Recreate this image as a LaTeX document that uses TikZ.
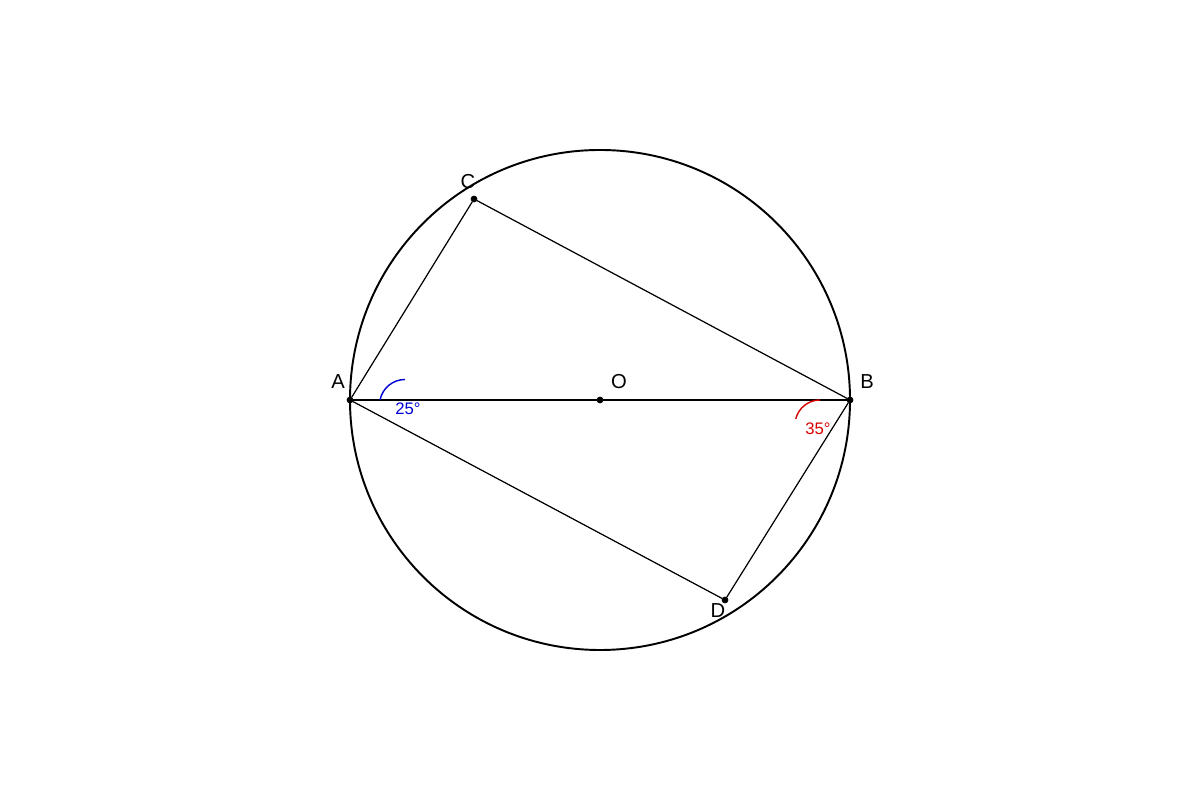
\documentclass[tikz,border=0pt]{standalone}
\usepackage{fontspec}
\setmainfont{Liberation Sans}
\usepackage{tikz}
\tikzstyle{dot}=[draw,shape=circle,fill,inner sep=1.2pt]
\tikzstyle{lbl}=[inner sep=0pt,font=\fontsize{11.5}{13}\selectfont]
\tikzstyle{ang}=[inner sep=0pt,font=\fontsize{9.5}{11}\selectfont]
\definecolor{angblue}{RGB}{0,0,210}
\definecolor{angred}{RGB}{215,0,0}

\begin{document}
\begin{tikzpicture}
\useasboundingbox (0,0) rectangle (24,16);

\draw[line width=1.1pt] (12,8) circle (5);

\node[dot](A) at (7,8){};
\node[dot](B) at (17,8){};
\node[dot](O) at (12,8){};
\node[dot](C) at (9.48,12.02){};
\node[dot](D) at (14.5,4){};

\draw[line width=1.1pt] (A) -- (O) -- (B);
\draw[line width=0.7pt] (A) -- (C) -- (B);
\draw[line width=0.7pt] (A) -- (D) -- (B);

\node[lbl](a) at (6.76,8.36){A};
\node[lbl](b) at (17.34,8.36){B};
\node[lbl](o) at (12.38,8.36){O};
\node[lbl](c) at (9.36,12.36){C};
\node[lbl](d) at (14.36,3.78){D};

\draw[angblue,line width=0.8pt] (7.6,8) arc[start angle=168.7,end angle=90,radius=0.51];
\node[ang,text=angblue](a25) at (8.16,7.82){25°};

\draw[angred,line width=0.8pt] (16.4,8) arc[start angle=90,end angle=166,radius=0.5];
\node[ang,text=angred](b35) at (16.36,7.42){35°};

\end{tikzpicture}
\end{document}
